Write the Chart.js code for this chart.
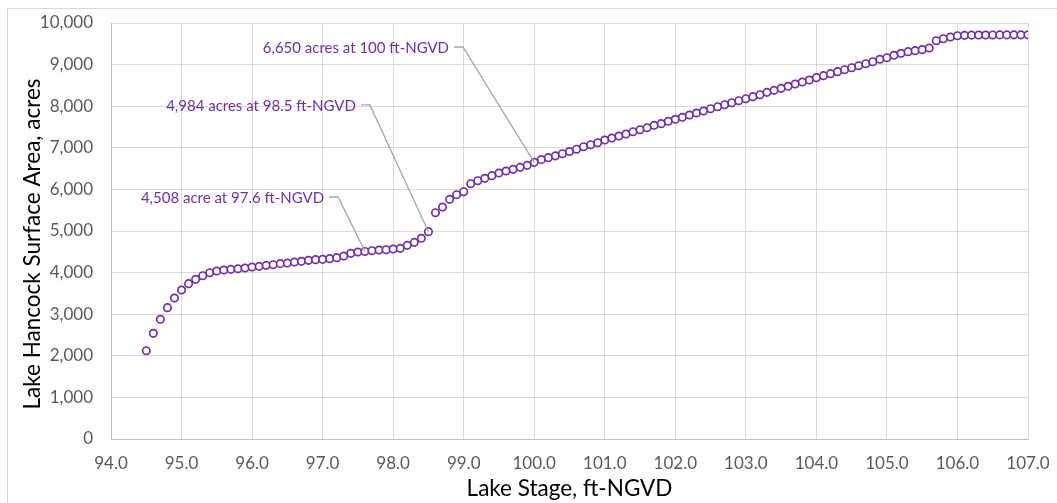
<!DOCTYPE html>
<html>
<head>
<meta charset="utf-8">
<script src="https://cdn.jsdelivr.net/npm/chart.js@4.4.1/dist/chart.umd.min.js"></script>
<style>
  body { margin: 0; background: #fff; }
  #wrap { width: 1057px; height: 503px; }
</style>
</head>
<body>
<div id="wrap"><canvas id="chart" width="1057" height="503"></canvas></div>
<script>
// Lake stage (ft-NGVD) and surface area (acres)
const stage = [
  94.5, 94.6, 94.7, 94.8, 94.9, 95.0, 95.1, 95.2, 95.3, 95.4,
  95.5, 95.6, 95.7, 95.8, 95.9, 96.0, 96.1, 96.2, 96.3, 96.4,
  96.5, 96.6, 96.7, 96.8, 96.9, 97.0, 97.1, 97.2, 97.3, 97.4,
  97.5, 97.6, 97.7, 97.8, 97.9, 98.0, 98.1, 98.2, 98.3, 98.4,
  98.5, 98.6, 98.7, 98.8, 98.9, 99.0, 99.1, 99.2, 99.3, 99.4,
  99.5, 99.6, 99.7, 99.8, 99.9, 100.0, 100.1, 100.2, 100.3, 100.4,
  100.5, 100.6, 100.7, 100.8, 100.9, 101.0, 101.1, 101.2, 101.3, 101.4,
  101.5, 101.6, 101.7, 101.8, 101.9, 102.0, 102.1, 102.2, 102.3, 102.4,
  102.5, 102.6, 102.7, 102.8, 102.9, 103.0, 103.1, 103.2, 103.3, 103.4,
  103.5, 103.6, 103.7, 103.8, 103.9, 104.0, 104.1, 104.2, 104.3, 104.4,
  104.5, 104.6, 104.7, 104.8, 104.9, 105.0, 105.1, 105.2, 105.3, 105.4,
  105.5, 105.6, 105.7, 105.8, 105.9, 106.0, 106.1, 106.2, 106.3, 106.4,
  106.5, 106.6, 106.7, 106.8, 106.9, 107.0
];
const area = [
  2122, 2540, 2877, 3157, 3389, 3582, 3734, 3838, 3926, 3998,
  4038, 4062, 4078, 4094, 4110, 4135, 4150, 4174, 4190, 4215,
  4230, 4255, 4271, 4295, 4311, 4319, 4335, 4359, 4399, 4463,
  4495, 4508, 4527, 4543, 4551, 4567, 4583, 4655, 4727, 4824,
  4984, 5440, 5577, 5761, 5873, 5945, 6137, 6209, 6266, 6330,
  6394, 6442, 6482, 6530, 6578, 6650, 6715, 6763, 6806, 6858,
  6911, 6966, 7027, 7075, 7123, 7188, 7236, 7284, 7332, 7387,
  7435, 7483, 7541, 7580, 7637, 7685, 7733, 7788, 7837, 7885,
  7940, 7988, 8036, 8084, 8132, 8180, 8229, 8277, 8333, 8381,
  8429, 8478, 8534, 8582, 8630, 8686, 8734, 8782, 8830, 8878,
  8926, 8974, 9022, 9070, 9127, 9166, 9223, 9271, 9311, 9335,
  9359, 9399, 9575, 9623, 9663, 9695, 9703, 9708, 9710, 9712,
  9713, 9714, 9714, 9715, 9715, 9715
];

// callouts: labelled point and the elbow of its leader line (data units)
const calloutText = [
  "4,508 acre at 97.6 ft-NGVD",
  "4,984 acres at 98.5 ft-NGVD",
  "6,650 acres at 100 ft-NGVD"
];
const calloutPoint = [[97.6, 4508], [98.5, 4984], [100.0, 6650]];
const calloutElbow = [[97.22, 5817], [97.67, 8030], [98.99, 9423]];

const yTitle = "Lake Hancock Surface Area, acres";
const xTitle = "Lake Stage, ft-NGVD";

const purple = "#7030A0";
const font = "Lato";

const calloutPlugin = {
  id: "callouts",
  afterDatasetsDraw(chart) {
    const { ctx, scales: { x, y } } = chart;
    ctx.save();
    for (let i = 0; i < calloutText.length; i++) {
      const px = x.getPixelForValue(calloutPoint[i][0]);
      const py = y.getPixelForValue(calloutPoint[i][1]);
      const ex = x.getPixelForValue(calloutElbow[i][0]);
      const ey = y.getPixelForValue(calloutElbow[i][1]);

      ctx.strokeStyle = "#A6A6A6";
      ctx.lineWidth = 1.3;
      ctx.beginPath();
      ctx.moveTo(ex - 9, ey);
      ctx.lineTo(ex, ey);
      ctx.lineTo(px, py);
      ctx.stroke();

      ctx.fillStyle = purple;
      ctx.font = "15px " + font;
      ctx.textAlign = "right";
      ctx.textBaseline = "middle";
      ctx.fillText(calloutText[i], ex - 14, ey + 1);
    }
    ctx.restore();
  }
};

// white background, chart frame and the y title (centred on the whole chart, like Excel)
const framePlugin = {
  id: "frame",
  beforeDraw(chart) {
    const ctx = chart.ctx;
    ctx.save();
    ctx.fillStyle = "#fff";
    ctx.fillRect(0, 0, chart.width, chart.height);
    ctx.strokeStyle = "#D9D9D9";
    ctx.lineWidth = 1;
    ctx.strokeRect(7.5, 8.5, chart.width + 10, chart.height + 10);
    ctx.restore();
  },
  afterDraw(chart) {
    const ctx = chart.ctx;
    const a = chart.chartArea;
    ctx.save();
    ctx.translate(33, (a.top + a.bottom) / 2 + 13);
    ctx.rotate(-Math.PI / 2);
    ctx.fillStyle = "#000";
    ctx.font = "22.5px " + font;
    ctx.textAlign = "center";
    ctx.textBaseline = "middle";
    ctx.fillText(yTitle, 0, 0);
    ctx.restore();
  }
};

new Chart(document.getElementById("chart"), {
  type: "scatter",
  data: {
    datasets: [{
      data: stage.map((s, i) => ({ x: s, y: area[i] })),
      showLine: false,
      pointStyle: "circle",
      pointRadius: 3.7,
      pointBorderWidth: 1.7,
      pointBorderColor: purple,
      pointBackgroundColor: "#fff"
    }]
  },
  options: {
    responsive: false,
    animation: false,
    layout: { padding: { left: 8, right: 29, top: 23, bottom: 0 } },
    plugins: { legend: { display: false }, tooltip: { enabled: false } },
    scales: {
      x: {
        type: "linear",
        min: 94, max: 107,
        afterFit(scale) {
          scale.height = 64;
          scale.paddingLeft = 0;
          scale.paddingRight = 0;
        },
        ticks: {
          stepSize: 1,
          padding: 14,
          color: "#595959",
          font: { family: font, size: 17 },
          callback: v => v.toFixed(1)
        },
        grid: { color: "#D9D9D9", drawTicks: false },
        border: { color: "#BFBFBF" },
        title: {
          display: true,
          text: xTitle,
          color: "#000",
          font: { family: font, size: 22.5 },
          padding: { top: 0, bottom: 1 }
        }
      },
      y: {
        min: 0, max: 10000,
        afterFit(scale) {
          scale.width = 103;
          scale.paddingTop = 0;
          scale.paddingBottom = 0;
        },
        ticks: {
          stepSize: 1000,
          padding: 18,
          color: "#595959",
          font: { family: font, size: 17 },
          callback: v => v.toLocaleString("en-US")
        },
        grid: { color: "#D9D9D9", drawTicks: false },
        border: { color: "#BFBFBF" }
      }
    }
  },
  plugins: [framePlugin, calloutPlugin]
});
</script>
</body>
</html>
